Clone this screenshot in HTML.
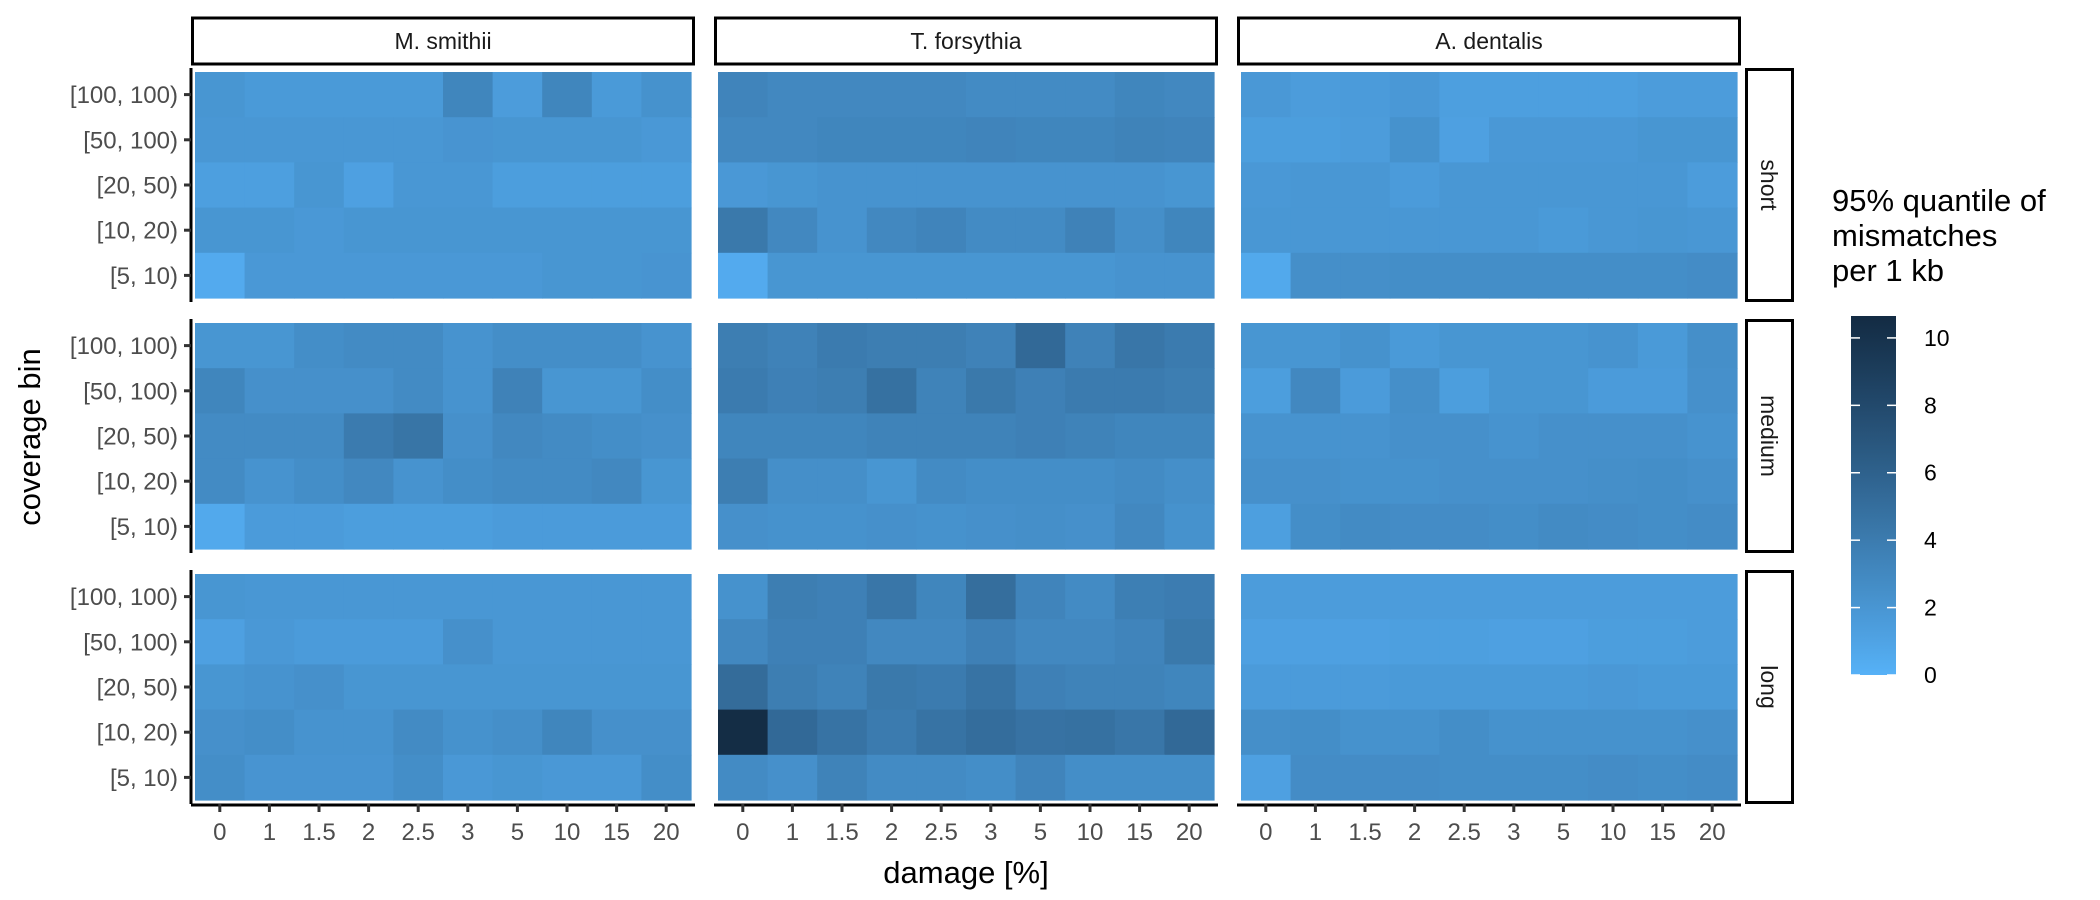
<!DOCTYPE html>
<html><head><meta charset="utf-8"><style>
html,body{margin:0;padding:0;background:#fff;}
svg{display:block;font-family:"Liberation Sans",Arial,sans-serif;}
</style></head><body>
<svg id="chart" width="2100" height="900" viewBox="0 0 2100 900"></svg>
<script>
const damages = ["0","1","1.5","2","2.5","3","5","10","15","20"];
const bins = ["[100, 100)","[50, 100)","[20, 50)","[10, 20)","[5, 10)"];
const species = ["M. smithii","T. forsythia","A. dentalis"];
const lengths = ["short","medium","long"];
const legendTicks = [0,2,4,6,8,10];
const fillMin = 0, fillMax = 10.65;
const msShort = [[2,1.7,1.7,1.7,1.7,3.2,1.5,3.2,1.7,2.3],[1.9,1.9,1.9,1.9,1.9,2.1,2,2,2,1.8],[1.3,1.3,2,1.2,1.9,1.9,1.4,1.4,1.4,1.4],[2,2,1.8,2,2,2,2,2,2,2],[0.5,1.8,1.8,1.8,1.8,1.8,1.8,2,2,2.1]];
const tfShort = [[3.3,3,3,3,3,2.8,2.8,2.8,3.2,3],[3,3,3.2,3.2,3.2,3.3,3.2,3.2,3.4,3.3],[1.8,2,2.2,2.2,2.2,2.2,2.2,2.2,2.2,2],[4.2,3,2.2,3,3.3,2.8,2.8,3.5,2.5,3.2],[0.5,2,2,2,2,2,2,2,2.2,2.2]];
const adShort = [[1.8,1.5,1.6,1.8,1.3,1.3,1.3,1.3,1.5,1.5],[1.4,1.4,1.5,2.3,1.2,1.8,1.8,1.8,2,2],[1.8,1.9,1.9,1.6,1.9,1.9,1.9,1.9,1.9,1.5],[1.9,1.9,1.9,1.9,1.9,1.9,1.7,1.9,2,1.9],[0.6,2.5,2.5,2.6,2.6,2.6,2.6,2.6,2.6,2.7]];
const msMedium = [[2,2,2.6,2.8,2.8,2.2,2.6,2.6,2.6,2.2],[3.2,2.4,2.4,2.4,2.8,2.2,3.5,2,2,2.6],[2.8,2.8,2.8,4,4.5,2.4,3,2.8,2.6,2.4],[2.8,2.2,2.6,3,2.2,2.6,2.8,2.8,3,2],[0.6,1.6,1.6,1.4,1.4,1.4,1.6,1.6,1.6,1.6]];
const tfMedium = [[3.8,3.5,4,3.8,3.8,3.5,5.4,3.5,4.4,4],[4,3.6,3.8,4.8,3.4,4.2,3.6,4,4,3.8],[3.2,3.2,3.2,3.4,3.4,3.4,3.6,3.4,3.2,3.2],[3.8,2.5,2.5,2,2.8,2.6,2.6,2.6,2.8,2.5],[2.4,2.3,2.3,2.4,2.3,2.4,2.5,2.4,3,2.3]];
const adMedium = [[2,2,2.3,1.7,2,2,2,2.2,1.7,2.5],[1.4,3,1.6,2.5,1.4,2,2,1.6,1.6,2.4],[2.2,2.2,2.2,2.4,2.4,2.2,2.4,2.4,2.4,2.2],[2.4,2.4,2.3,2.3,2.4,2.4,2.4,2.5,2.6,2.4],[1.3,2.6,2.8,2.7,2.7,2.6,2.8,2.7,2.6,2.7]];
const msLong = [[2,1.9,1.9,1.9,1.9,1.9,1.9,1.9,1.9,1.9],[1.2,1.8,1.6,1.6,1.6,2.4,1.9,1.9,1.9,1.9],[2,2.2,2.4,2,2,2,2,2,2,2],[2.4,2.6,2.2,2.2,2.8,2.3,2.5,3.2,2.4,2.4],[2.6,2.1,2.1,2.1,2.6,1.8,2,1.8,1.8,2.6]];
const tfLong = [[2.3,3.8,3.6,4.4,3.2,5,3.3,2.8,3.7,3.9],[3,3.6,3.6,3,3,3.6,3,3,3.3,4.2],[5.2,3.8,3.4,4.2,4,4.6,3.6,3.4,3.4,3.2],[10.5,5.4,4.6,4,4.6,5.1,4.7,4.8,4.4,5.4],[2.8,2.4,3.4,2.8,2.8,2.6,3.3,2.6,2.6,2.6]];
const adLong = [[1.5,1.5,1.5,1.5,1.5,1.5,1.5,1.5,1.5,1.5],[1.2,1.2,1.2,1.3,1.3,1.2,1.2,1.4,1.4,1.5],[1.6,1.6,1.6,1.7,1.7,1.7,1.7,1.8,1.7,1.7],[2.5,2.6,2.3,2.3,2.6,2.3,2.3,2.3,2.3,2.4],[1.2,2.7,2.7,2.7,2.6,2.6,2.6,2.7,2.6,2.7]];
const grid = [[msShort,tfShort,adShort],[msMedium,tfMedium,adMedium],[msLong,tfLong,adLong]];

const NS="http://www.w3.org/2000/svg";
const svg=document.getElementById('chart');
function mk(tag,attrs,parent){const e=document.createElementNS(NS,tag);for(const k in attrs)e.setAttribute(k,attrs[k]);(parent||svg).appendChild(e);return e;}
function s2l(c){c/=255;return c<=0.04045?c/12.92:Math.pow((c+0.055)/1.055,2.4);}
function l2s(c){c=c<=0.0031308?12.92*c:1.055*Math.pow(c,1/2.4)-0.055;return Math.max(0,Math.min(255,Math.round(c*255)));}
function toLab(rgb){const [r,g,b]=rgb.map(s2l);
  let X=(0.4124*r+0.3576*g+0.1805*b)/0.95047,Y=0.2126*r+0.7152*g+0.0722*b,Z=(0.0193*r+0.1192*g+0.9505*b)/1.08883;
  const f=t=>t>0.008856?Math.cbrt(t):7.787*t+16/116;X=f(X);Y=f(Y);Z=f(Z);
  return [116*Y-16,500*(X-Y),200*(Y-Z)];}
function fromLab(l){let Y=(l[0]+16)/116,X=l[1]/500+Y,Z=Y-l[2]/200;
  const fi=t=>t*t*t>0.008856?t*t*t:(t-16/116)/7.787;X=fi(X)*0.95047;Y=fi(Y);Z=fi(Z)*1.08883;
  const r=3.2406*X-1.5372*Y-0.4986*Z,g=-0.9689*X+1.8758*Y+0.0415*Z,b=0.0557*X-0.2040*Y+1.0570*Z;
  return [l2s(r),l2s(g),l2s(b)];}
const loLab=toLab([0x56,0xB1,0xF7]), hiLab=toLab([0x13,0x2B,0x43]);
function color(v){let t=(v-fillMin)/(fillMax-fillMin);t=Math.max(0,Math.min(1,t));
  const c=fromLab(loLab.map((a,i)=>a+(hiLab[i]-a)*t));return `rgb(${c[0]},${c[1]},${c[2]})`;}
const colX=[191,714,1237], panelW=504;
const rowY=[68,319,570], panelH=234, pad=4;
function xScale(col,i){const w=(panelW-2*pad)/damages.length;return colX[col]+pad+i*w;}
function yScale(row,j){const h=(panelH-2*pad)/bins.length;return rowY[row]+pad+j*h;}
const cw=(panelW-2*pad)/damages.length, ch=(panelH-2*pad)/bins.length;

for(let r=0;r<3;r++){for(let c=0;c<3;c++){
  const g=mk('g',{});
  
  
  const data=grid[r][c];
  for(let j=0;j<bins.length;j++)for(let i=0;i<damages.length;i++){
    const rc=mk('rect',{x:xScale(c,i),y:yScale(r,j),width:cw+0.6,height:ch+0.6,fill:color(data[j][i])},g);
    
    
  }
}}
for(let c=0;c<3;c++){
  const g=mk('g',{});
  
  
  mk('rect',{x:colX[c]+1.5,y:18,width:panelW-3,height:46,fill:'#fff',stroke:'#000','stroke-width':3},g);
  const t=mk('text',{x:colX[c]+panelW/2,y:49,'text-anchor':'middle','font-size':23,fill:'#1a1a1a'},g);t.textContent=species[c];
}
for(let r=0;r<3;r++){
  const g=mk('g',{});
  
  
  mk('rect',{x:1746.5,y:rowY[r]+1.5,width:46,height:panelH-3,fill:'#fff',stroke:'#000','stroke-width':3},g);
  const cx=1769, cy=rowY[r]+panelH/2;
  const t=mk('text',{x:cx,y:cy,'text-anchor':'middle','dominant-baseline':'central','font-size':23,fill:'#1a1a1a',transform:`rotate(90 ${cx} ${cy})`},g);t.textContent=lengths[r];
}
for(let r=0;r<3;r++){
  const g=mk('g',{});
  
  
  mk('line',{x1:191,x2:191,y1:rowY[r],y2:rowY[r]+panelH,stroke:'#000','stroke-width':3},g);
  for(let j=0;j<bins.length;j++){const y=yScale(r,j)+ch/2;
    mk('line',{x1:184,x2:191,y1:y,y2:y,stroke:'#333','stroke-width':3},g);
    const t=mk('text',{x:178,y:y+8.5,'text-anchor':'end','font-size':24,fill:'#4d4d4d'},g);t.textContent=bins[j];}
}
for(let c=0;c<3;c++){
  const g=mk('g',{});
  
  
  const y0=rowY[2]+panelH;
  mk('line',{x1:colX[c],x2:colX[c]+panelW,y1:y0+1,y2:y0+1,stroke:'#000','stroke-width':3},g);
  for(let i=0;i<damages.length;i++){const x=xScale(c,i)+cw/2;
    mk('line',{x1:x,x2:x,y1:y0,y2:y0+8,stroke:'#333','stroke-width':3},g);
    const t=mk('text',{x:x,y:y0+36,'text-anchor':'middle','font-size':24,fill:'#4d4d4d'},g);t.textContent=damages[i];}
}
let t=mk('text',{x:966,y:883,'text-anchor':'middle','font-size':31,fill:'#000'});t.textContent='damage [%]';

t=mk('text',{x:40,y:437,'text-anchor':'middle','font-size':31,fill:'#000',transform:'rotate(-90 40 437)'});t.textContent='coverage bin';

const lg=mk('g',{});


const defs=mk('defs',{},lg);
const grad=mk('linearGradient',{id:'lgrad',x1:0,y1:1,x2:0,y2:0},defs);
for(let k=0;k<=20;k++){const v=fillMin+(fillMax-fillMin)*k/20;mk('stop',{offset:k/20,'stop-color':color(v)},grad);}
const barX=1851,barW=45,barTop=316,barBot=675;
function ly(v){return barBot-(v-fillMin)/(fillMax-fillMin)*(barBot-barTop);}
mk('rect',{x:barX,y:barTop,width:barW,height:barBot-barTop,fill:'url(#lgrad)'},lg);
legendTicks.forEach(v=>{const y=ly(v);
  mk('line',{x1:barX,x2:barX+9,y1:y,y2:y,stroke:'#fff','stroke-width':1.5},lg);
  mk('line',{x1:barX+barW-9,x2:barX+barW,y1:y,y2:y,stroke:'#fff','stroke-width':1.5},lg);
  const tt=mk('text',{x:1924,y:y+8,'font-size':23,fill:'#000'},lg);tt.textContent=String(v);});
["95% quantile of","mismatches","per 1 kb"].forEach((s,i)=>{const tt=mk('text',{x:1832,y:211+i*35,'font-size':31,fill:'#000'},lg);tt.textContent=s;});
</script>
</body></html>
